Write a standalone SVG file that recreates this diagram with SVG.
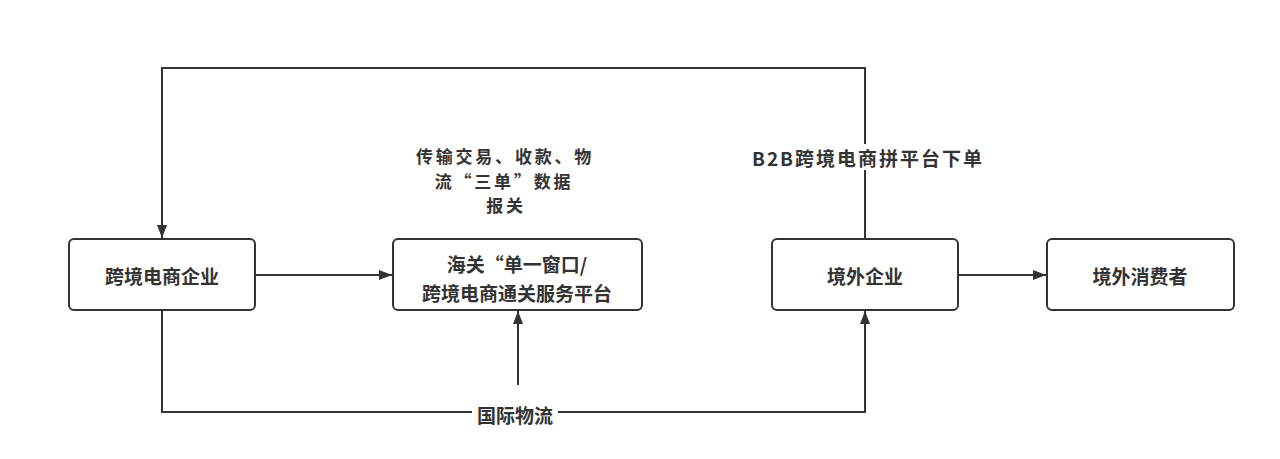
<svg xmlns="http://www.w3.org/2000/svg" width="1280" height="459" viewBox="0 0 1280 459">
<defs>
<style>
.node rect{fill:#fff;stroke:#333;stroke-width:2}
text{font-family:"Noto Sans CJK SC","Noto Sans",sans-serif;font-weight:bold;font-size:19px;fill:#333;text-anchor:middle;dominant-baseline:central}
.note{font-size:17px;letter-spacing:2.8px}
.edge{fill:none;stroke:#333;stroke-width:2}
.lbl{fill:#fff;stroke:none}
</style>
<marker id="arr" markerWidth="13" markerHeight="10" refX="13" refY="5" orient="auto" markerUnits="userSpaceOnUse">
<path d="M0,0 L13,5 L0,10 Z" fill="#333"/>
</marker>
</defs>
<rect width="1280" height="459" fill="#fff"/>
<g id="connectors">
<path class="edge" d="M255,275 H392" marker-end="url(#arr)"/>
<path class="edge" d="M958,275 H1046" marker-end="url(#arr)"/>
<path class="edge" d="M865,239 V68 H162 V238" marker-end="url(#arr)"/>
<path class="edge" d="M162,310 V412 H865 V311" marker-end="url(#arr)"/>
<path class="edge" d="M518,385 V311" marker-end="url(#arr)"/>
<rect class="lbl" x="752" y="144" width="230" height="26"/>
<text x="868" y="157" letter-spacing="2">B2B跨境电商拼平台下单</text>
<rect class="lbl" x="472" y="402" width="86" height="24"/>
<text x="515" y="414">国际物流</text>
<text class="note" x="505" y="155">传输交易、收款、物</text>
<text class="note" x="504" y="180">流“三单”数据</text>
<text class="note" x="506" y="204">报关</text>
</g>
<g id="n1" class="node">
<rect x="69" y="239" width="186" height="71" rx="5"/>
<text x="162" y="275">跨境电商企业</text>
</g>
<g id="n2" class="node">
<rect x="393" y="239" width="249" height="71" rx="5"/>
<text x="517" y="263">海关“单一窗口/</text>
<text x="517" y="292">跨境电商通关服务平台</text>
</g>
<g id="n3" class="node">
<rect x="772" y="239" width="186" height="71" rx="5"/>
<text x="865" y="275">境外企业</text>
</g>
<g id="n4" class="node">
<rect x="1047" y="239" width="187" height="71" rx="5"/>
<text x="1140" y="275">境外消费者</text>
</g>
</svg>
